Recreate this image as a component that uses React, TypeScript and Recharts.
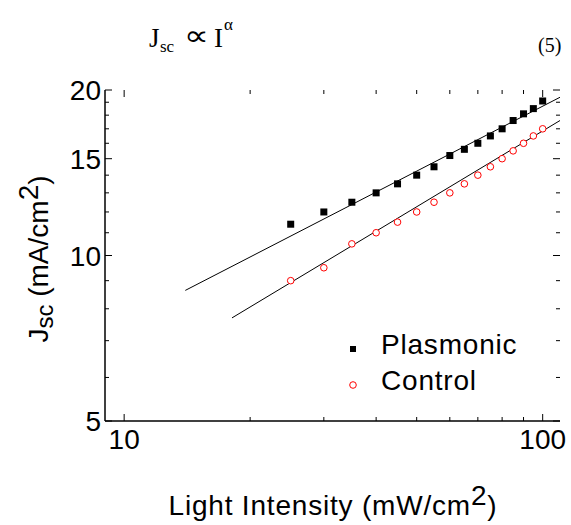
import React from 'react';
import { ComposedChart, Scatter, XAxis, YAxis, Legend } from 'recharts';

// ---- data ----
const INTENSITY = [25, 30, 35, 40, 45, 50, 55, 60, 65, 70, 75, 80, 85, 90, 95, 100];
const PLASMONIC = [11.4, 12.0, 12.5, 13.0, 13.5, 14.0, 14.5, 15.2, 15.6, 16.0, 16.5, 17.0, 17.6, 18.1, 18.5, 19.1];
const CONTROL = [9.0, 9.5, 10.5, 11.0, 11.5, 12.0, 12.5, 13.0, 13.5, 14.0, 14.5, 15.0, 15.5, 16.0, 16.5, 17.0];
const FIT_PLASMONIC_X = [14, 110];
const FIT_PLASMONIC_Y = [8.64, 19.4];
const FIT_CONTROL_X = [18.1, 110];
const FIT_CONTROL_Y = [7.7, 17.6];
const X_TICKS = [10, 20, 30, 40, 50, 60, 70, 80, 90, 100];
const X_LABELS = [10, 100];
const Y_TICKS = [5, 6, 7, 8, 9, 10, 11, 12, 13, 14, 15, 16, 17, 18, 19, 20];
const Y_LABELS = [5, 10, 15, 20];
const SERIES_NAMES = ['Plasmonic', 'Control'];

const plasmonicData = INTENSITY.map((x, i) => ({ x, y: PLASMONIC[i] }));
const controlData = INTENSITY.map((x, i) => ({ x, y: CONTROL[i] }));
const fitPlasmonic = FIT_PLASMONIC_X.map((x, i) => ({ x, y: FIT_PLASMONIC_Y[i] }));
const fitControl = FIT_CONTROL_X.map((x, i) => ({ x, y: FIT_CONTROL_Y[i] }));

// ---- layout ----
const W = 571;
const H = 525;
const PLOT_LEFT = 105;
const PLOT_RIGHT = 560;
const PLOT_TOP = 90;
const PLOT_BOTTOM = 421;
const FONT = '"Liberation Sans", Arial, sans-serif';
const SERIF = '"Liberation Serif", "DejaVu Serif", serif';

const BottomTick = (props: any) => {
  const { x, payload } = props;
  const v = payload.value;
  const major = X_LABELS.includes(v);
  const len = major ? 7 : 4;
  return (
    <g>
      <line x1={x} x2={x} y1={PLOT_BOTTOM} y2={PLOT_BOTTOM - len} stroke="#000" strokeWidth={1} />
      <line x1={x} x2={x} y1={PLOT_TOP} y2={PLOT_TOP + len} stroke="#000" strokeWidth={1} />
      {major && (
        <text x={x} y={449} textAnchor="middle" fontFamily={FONT} fontSize={28} fill="#000">
          {v}
        </text>
      )}
    </g>
  );
};

const LeftTick = (props: any) => {
  const { y, payload } = props;
  const v = payload.value;
  const major = Y_LABELS.includes(v);
  const len = major ? 7 : 4;
  return (
    <g>
      <line x1={PLOT_LEFT} x2={PLOT_LEFT + len} y1={y} y2={y} stroke="#000" strokeWidth={1} />
      <line x1={PLOT_RIGHT} x2={PLOT_RIGHT - len} y1={y} y2={y} stroke="#000" strokeWidth={1} />
      {major && (
        <text x={101} y={y + 10} textAnchor="end" fontFamily={FONT} fontSize={28} fill="#000">
          {v}
        </text>
      )}
    </g>
  );
};

const SquareShape = (props: any) => {
  const { cx, cy } = props;
  if (cx == null || cy == null) return null;
  return <rect x={cx - 3.5} y={cy - 3.5} width={7} height={7} fill="#000" />;
};

const CircleShape = (props: any) => {
  const { cx, cy } = props;
  if (cx == null || cy == null) return null;
  return <circle cx={cx} cy={cy} r={3.3} fill="#fff" stroke="#ff0000" strokeWidth={1} />;
};

const NoShape = () => null;

const YLabel = () => (
  <text
    x={48}
    y={48}
    transform={`rotate(-90, 48, 48) translate(${48 - 259}, 0)`}
    textAnchor="middle"
    fontFamily={FONT}
    fontSize={28}
    fill="#000"
  >
    <tspan>J</tspan>
    <tspan fontSize={24} dy={5}>sc</tspan>
    <tspan dy={-5}>{' (mA/cm'}</tspan>
    <tspan dy={-10}>2</tspan>
    <tspan dy={10}>)</tspan>
  </text>
);

const XLabel = () => (
  <text x={333} y={515} textAnchor="middle" fontFamily={FONT} fontSize={28} fill="#000" letterSpacing={0.8}>
    <tspan>Light Intensity (mW/cm</tspan>
    <tspan dy={-10}>2</tspan>
    <tspan dy={10}>)</tspan>
  </text>
);

const LegendContent = () => (
  <div style={{ fontFamily: FONT, fontSize: 28, color: '#000', letterSpacing: 0.8 }}>
    {SERIES_NAMES.map((name, i) => (
      <div key={name} style={{ position: 'relative', height: 36 }}>
        <svg width={12} height={12} style={{ position: 'absolute', left: 2, top: 16 }}>
          {i === 0 ? (
            <rect x={3} y={3} width={6} height={6} fill="#000" />
          ) : (
            <circle cx={6} cy={6} r={3.3} fill="#fff" stroke="#ff0000" strokeWidth={1} />
          )}
        </svg>
        <span style={{ position: 'absolute', left: 36, top: 0, lineHeight: '36px', whiteSpace: 'nowrap' }}>{name}</span>
      </div>
    ))}
  </div>
);

export default function App() {
  return (
    <div style={{ position: 'absolute', left: 0, top: 0, width: W, height: H, background: '#fff' }}>
      <svg width={W} height={H} style={{ position: 'absolute', left: 0, top: 0 }}>
        <text x={149} y={47} fontFamily={SERIF} fontSize={27} fill="#000">J</text>
        <text x={160} y={52} fontFamily={SERIF} fontSize={17} fill="#000">sc</text>
        <text transform="translate(184, 45) scale(1.45, 1.15)" fontFamily='"DejaVu Sans", sans-serif' fontSize={24} fill="#000">∝</text>
        <text x={214} y={47} fontFamily={SERIF} fontSize={27} fill="#000">I</text>
        <text x={224} y={30} fontFamily={SERIF} fontSize={17} fill="#000">α</text>
        <text x={538} y={52} fontFamily={SERIF} fontSize={20} fill="#000">(5)</text>
      </svg>
      <div style={{ position: 'absolute', left: 0, top: 0 }}>
        <ComposedChart width={W} height={H} margin={{ top: PLOT_TOP, right: W - PLOT_RIGHT, bottom: 0, left: 0 }}>
          <XAxis
            xAxisId="b"
            dataKey="x"
            type="number"
            scale="log"
            domain={[9, 110]}
            allowDataOverflow
            ticks={X_TICKS}
            interval={0}
            tick={(p: any) => <BottomTick {...p} />}
            tickLine={false}
            axisLine={{ stroke: '#000', strokeWidth: 1.5 }}
            height={H - PLOT_BOTTOM}
            label={<XLabel />}
          />
          <XAxis
            xAxisId="t"
            orientation="top"
            type="number"
            scale="log"
            domain={[9, 110]}
            allowDataOverflow
            tick={false}
            tickLine={false}
            axisLine={{ stroke: '#000', strokeWidth: 1.5 }}
            height={0}
          />
          <YAxis
            yAxisId="l"
            dataKey="y"
            type="number"
            scale="log"
            domain={[5, 20]}
            allowDataOverflow
            ticks={Y_TICKS}
            interval={0}
            tick={(p: any) => <LeftTick {...p} />}
            tickLine={false}
            axisLine={{ stroke: '#000', strokeWidth: 1.5 }}
            width={PLOT_LEFT}
            label={<YLabel />}
          />
          <YAxis
            yAxisId="r"
            orientation="right"
            type="number"
            scale="log"
            domain={[5, 20]}
            allowDataOverflow
            tick={false}
            tickLine={false}
            axisLine={{ stroke: '#000', strokeWidth: 1.5 }}
            width={0}
          />
          <Scatter
            name="Plasmonic fit"
            xAxisId="b"
            yAxisId="l"
            data={fitPlasmonic}
            line={{ stroke: '#000', strokeWidth: 1 }}
            shape={NoShape}
            isAnimationActive={false}
            legendType="none"
          />
          <Scatter
            name="Control fit"
            xAxisId="b"
            yAxisId="l"
            data={fitControl}
            line={{ stroke: '#000', strokeWidth: 1 }}
            shape={NoShape}
            isAnimationActive={false}
            legendType="none"
          />
          <Scatter
            name="Plasmonic"
            xAxisId="b"
            yAxisId="l"
            data={plasmonicData}
            shape={SquareShape}
            isAnimationActive={false}
          />
          <Scatter
            name="Control"
            xAxisId="b"
            yAxisId="l"
            data={controlData}
            shape={CircleShape}
            isAnimationActive={false}
          />
          <Legend
            layout="vertical"
            align="center"
            verticalAlign="middle"
            content={() => <LegendContent />}
            wrapperStyle={{ position: 'absolute', left: 345, top: 327, width: 200, height: 72 }}
          />
        </ComposedChart>
      </div>
    </div>
  );
}
